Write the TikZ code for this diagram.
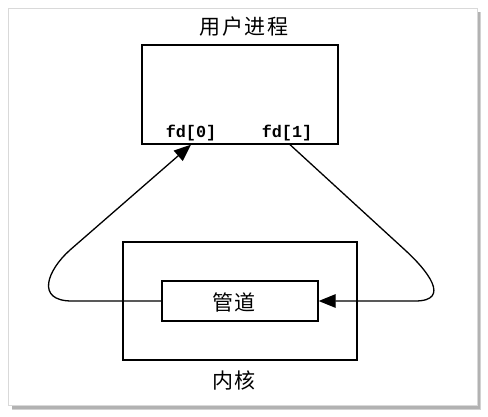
\documentclass[tikz,border=0pt]{standalone}
\usepackage{fontspec}
\setmonofont{Liberation Mono}
\newfontfamily\cjk{Noto Sans CJK SC}
\usetikzlibrary{arrows.meta}
\newcommand\cjkgap{\hspace{1.5pt}}
\begin{document}
\begin{tikzpicture}[x=1pt,y=-1pt,
  box/.style={draw, line width=1.3pt, inner sep=0pt, rectangle},
  cjklabel/.style={font=\cjk\fontsize{21}{21}\selectfont, inner sep=0pt},
  fdlabel/.style={font=\ttfamily\bfseries\fontsize{16.8}{16.8}\selectfont, inner sep=0pt},
  conn/.style={line width=1.3pt, -{Triangle[length=17pt,width=13.5pt]}}]
\useasboundingbox (0,0) rectangle (488,416);
% outer frame with shadow
\fill[gray!35] (12,12) rectangle (481,410);
\fill[gray!60] (12,12) rectangle (480,409);
\fill[white, draw=gray!30, line width=0.8pt] (8,8) rectangle (477,405);
% title
\node[cjklabel] (title) at (244,27) {用\cjkgap 户\cjkgap 进\cjkgap 程};
% process box
\node[box, minimum width=196pt, minimum height=99pt] (proc) at (240,94.5) {};
\node[fdlabel] (fd0) at (191,133) {fd[0]};
\node[fdlabel] (fd1) at (287,133) {fd[1]};
% kernel box
\node[box, minimum width=234pt, minimum height=118pt] (kern) at (240,301) {};
\node[box, minimum width=156pt, minimum height=40pt] (pipe) at (240,301) {};
\node[cjklabel] (pipetext) at (234,302) {管\cjkgap 道};
\node[cjklabel] (kerntext) at (234,380) {内\cjkgap 核};
% connectors
\coordinate (l1) at (72,301);
\coordinate (l2) at (70,250);
\coordinate (r1) at (405,250);
\coordinate (r2) at (415,301);
\draw[conn] (pipe.west) -- (l1) .. controls (35,301) and (47.5,270) .. (l2) -- (fd0.center |- proc.south);
\draw[conn] ([xshift=3pt]fd1.center |- proc.south) -- (r1) .. controls (427,270) and (452,301) .. (r2) -- (pipe.east);
\end{tikzpicture}
\end{document}
